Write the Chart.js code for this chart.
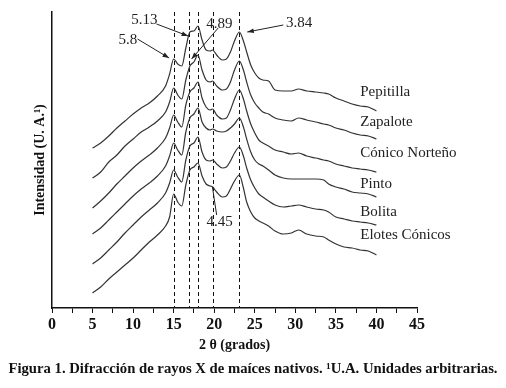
<!DOCTYPE html>
<html>
<head>
<meta charset="utf-8">
<script src="https://cdn.jsdelivr.net/npm/chart.js@4.4.0/dist/chart.umd.min.js"></script>
<style>
  html, body { margin: 0; padding: 0; background: #fff; }
  #wrap { position: relative; width: 506px; height: 388px; }
  #caption {
    position: absolute; left: 0; top: 360px; width: 506px;
    text-align: center; font: bold 14.7px "Liberation Serif", serif;
    line-height: 16px; color: #111; white-space: nowrap;
  }
</style>
</head>
<body>
<div id="wrap">
  <canvas id="xrdChart" width="506" height="388"></canvas>
  <div id="caption">Figura 1. Difracción de rayos X de maíces nativos. ¹U.A. Unidades arbitrarias.</div>
</div>
<script>
// 2 theta positions shared by all patterns
const twoTheta = [5, 6, 7, 8, 9, 10, 11, 12, 13, 14, 14.5, 15, 15.5, 16, 16.5, 17, 17.5, 18, 18.5, 19, 19.5, 19.8, 20.3, 21, 21.5, 22, 22.5, 23.1, 23.6, 24, 24.5, 25, 25.5, 26, 26.7, 27.5, 28.5, 29.5, 30.4, 31.4, 32.5, 33.5, 34.1, 35, 36, 37, 38, 39, 40];

// intensities (arbitrary units, already stacked)
const pepitilla = [160, 165, 172, 180, 187, 194, 200, 205, 212, 222, 234, 249, 244, 242, 260, 276, 277, 282, 268, 258, 257, 258, 253, 248, 249, 256, 267, 276, 267, 256, 243, 235, 230, 228, 227, 218, 217, 217, 219, 217, 216, 215, 214, 210, 207, 204, 202, 201, 197];
const zapalote = [130, 136, 146, 153, 162, 169, 176, 181, 187, 196, 206, 220, 213, 209, 228, 242, 246, 253, 238, 228, 226, 227, 222, 218, 219, 226, 238, 247, 238, 226, 213, 205, 200, 196, 194, 190, 188, 187, 190, 188, 186, 184, 183, 180, 178, 175, 173, 172, 169];
const conicoNorteno = [100, 107, 115, 124, 132, 140, 147, 153, 160, 170, 180, 193, 186, 181, 203, 216, 220, 226, 210, 201, 198, 199, 193, 189, 190, 198, 209, 218, 209, 197, 184, 175, 168, 165, 162, 158, 156, 154, 155, 152, 150, 148, 147, 144, 142, 140, 139, 138, 136];
const pinto = [74, 80, 88, 96, 104, 112, 119, 125, 132, 142, 152, 165, 158, 153, 176, 190, 194, 200, 186, 180, 178, 179, 177, 176, 177, 180, 184, 190, 181, 169, 156, 148, 144, 142, 138, 133, 130, 129, 129, 129, 129, 128, 124, 121, 119, 116, 115, 114, 111];
const bolita = [44, 50, 58, 66, 75, 83, 91, 98, 105, 115, 125, 138, 131, 126, 148, 162, 165, 171, 156, 148, 147, 148, 144, 140, 141, 147, 155, 161, 152, 140, 128, 120, 114, 111, 107, 103, 101, 102, 103, 101, 99, 98, 96, 91, 89, 87, 86, 85, 83];
const elotesConicos = [15, 21, 29, 36, 43, 50, 58, 66, 73, 82, 91, 114, 106, 102, 123, 138, 141, 145, 132, 124, 122, 121, 116, 111, 112, 119, 127, 133, 120, 106, 96, 90, 87, 85, 82, 77, 74, 75, 78, 74, 72, 71, 68, 64, 61, 60, 58, 57, 53];

const seriesNames = ['Pepitilla', 'Zapalote', 'Cónico Norteño', 'Pinto', 'Bolita', 'Elotes Cónicos'];
const seriesData = [pepitilla, zapalote, conicoNorteno, pinto, bolita, elotesConicos];
// where each name sits (2 theta, intensity)
const nameX = [38, 38, 38, 38, 38, 38];
const nameY = [216, 186, 155, 124, 96, 73];

// dashed reference lines
const peakLines = [15, 16.9, 18, 19.8, 23.1];

// d-spacing notes: text position and leader line (from -> to)
const noteText = ['5.13', '5.8', '4.89', '3.84', '4.45'];
const noteX = [11.4, 9.35, 20.64, 30.46, 20.68];
const noteY = [288, 268, 284, 285, 86];
const leadFromX = [12.89, 10.54, 20.49, 28.52, 20.30];
const leadFromY = [284, 269, 280, 283, 93];
const leadToX = [16.79, 14.44, 17.21, 24.07, 19.78];
const leadToY = [272, 250, 249, 276, 121];
const leadArrow = [true, true, true, true, false];

const serif = '"Liberation Serif", "DejaVu Serif", serif';
const ink = '#222';

const datasets = seriesData.map(function(vals, i) {
    return {
        label: seriesNames[i],
        data: vals.map(function(v, j) { return { x: twoTheta[j], y: v }; }),
        borderColor: '#333',
        borderWidth: 1.2,
        pointRadius: 0,
        cubicInterpolationMode: 'monotone',
        fill: false
    };
});

function arrowHead(c, x0, y0, x1, y1) {
    const a = Math.atan2(y1 - y0, x1 - x0);
    const len = 7, w = 0.35;
    c.beginPath();
    c.moveTo(x1, y1);
    c.lineTo(x1 - len * Math.cos(a - w), y1 - len * Math.sin(a - w));
    c.lineTo(x1 - len * Math.cos(a + w), y1 - len * Math.sin(a + w));
    c.closePath();
    c.fill();
}

const extras = {
    id: 'extras',
    beforeDatasetsDraw(chart) {
        const c = chart.ctx, xs = chart.scales.x, area = chart.chartArea;
        c.save();
        c.strokeStyle = '#111';
        c.lineWidth = 1;
        c.setLineDash([4, 3]);
        peakLines.forEach(function(p) {
            const px = Math.round(xs.getPixelForValue(p)) + 0.5;
            c.beginPath();
            c.moveTo(px, area.top);
            c.lineTo(px, area.bottom);
            c.stroke();
        });
        c.restore();
    },
    afterDraw(chart) {
        const c = chart.ctx, xs = chart.scales.x, ys = chart.scales.y;
        c.save();
        c.fillStyle = ink;
        c.font = '15px ' + serif;
        c.textBaseline = 'middle';
        c.textAlign = 'left';
        seriesNames.forEach(function(n, i) {
            c.fillText(n, xs.getPixelForValue(nameX[i]), ys.getPixelForValue(nameY[i]));
        });

        c.textAlign = 'center';
        c.strokeStyle = ink;
        c.lineWidth = 1;
        noteText.forEach(function(t, i) {
            c.fillText(t, xs.getPixelForValue(noteX[i]), ys.getPixelForValue(noteY[i]));
            const x0 = xs.getPixelForValue(leadFromX[i]), y0 = ys.getPixelForValue(leadFromY[i]);
            const x1 = xs.getPixelForValue(leadToX[i]), y1 = ys.getPixelForValue(leadToY[i]);
            c.beginPath();
            c.moveTo(x0, y0);
            c.lineTo(x1, y1);
            c.stroke();
            if (leadArrow[i]) arrowHead(c, x0, y0, x1, y1);
        });
        c.restore();
    }
};

new Chart(document.getElementById('xrdChart'), {
    type: 'line',
    data: { datasets: datasets },
    options: {
        responsive: false,
        animation: false,
        layout: { padding: { top: 12, right: 89, left: 0, bottom: 0 } },
        plugins: { legend: { display: false }, tooltip: { enabled: false } },
        scales: {
            x: {
                type: 'linear',
                min: 0,
                max: 45,
                afterFit: function(scale) { scale.height = 80; },
                border: { display: true, color: '#111', width: 1.5 },
                grid: { drawOnChartArea: false, drawTicks: true, tickLength: 5, color: '#111' },
                ticks: {
                    stepSize: 2.5,
                    autoSkip: false,
                    maxRotation: 0,
                    padding: 2,
                    color: '#111',
                    font: { family: serif, size: 16, weight: 'bold' },
                    callback: function(v) { return v % 5 === 0 ? String(v) : ''; }
                },
                title: {
                    display: true,
                    text: '2 θ (grados)',
                    color: '#111',
                    font: { family: serif, size: 14, weight: 'bold' },
                    padding: { top: 0, bottom: 34.6 }
                }
            },
            y: {
                min: 0,
                max: 296,
                afterFit: function(scale) { scale.width = 52; },
                border: { display: true, color: '#111', width: 1.5 },
                grid: { display: false },
                ticks: { display: false },
                title: {
                    display: true,
                    text: 'Intensidad (U. A.¹)',
                    color: '#111',
                    font: { family: serif, size: 14, weight: 'bold' },
                    padding: { top: 31.6, bottom: 0 }
                }
            }
        }
    },
    plugins: [extras]
});
</script>
</body>
</html>
